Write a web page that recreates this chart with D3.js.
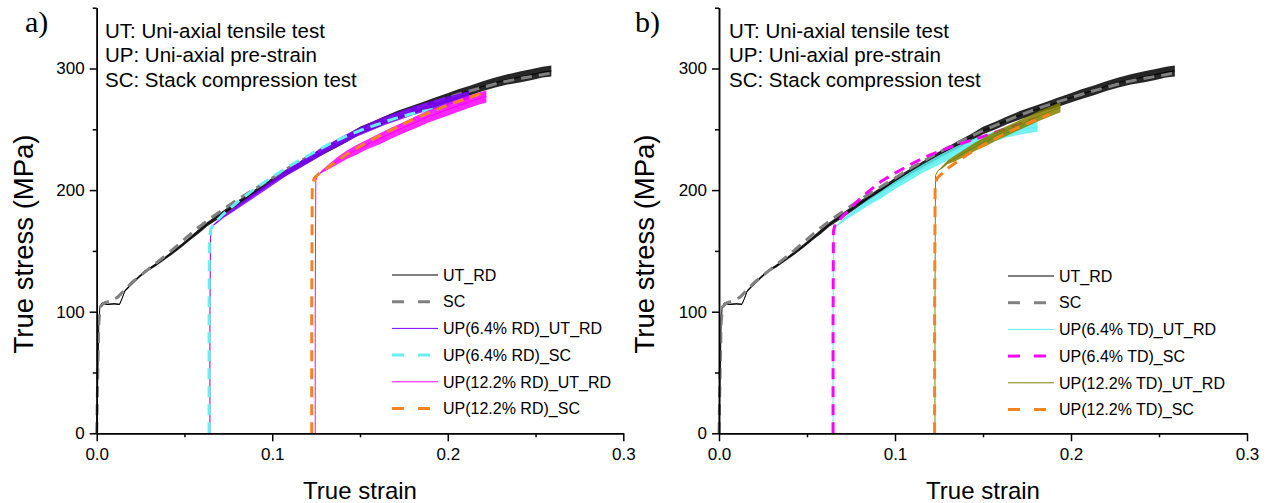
<!DOCTYPE html>
<html>
<head>
<meta charset="utf-8">
<script src="https://cdn.jsdelivr.net/npm/d3@7"></script>
<style>
  html, body { margin: 0; padding: 0; background: #fff; }
  svg { display: block; }
</style>
</head>
<body>
<svg id="chart" width="1270" height="503"></svg>
<script>
// ---------- axis setup ----------
const strainDomain = [0, 0.3];
const stressDomain = [0, 350];
const xMajorTicks = [0, 0.1, 0.2, 0.3];
const xMinorTicks = [0.05, 0.15, 0.25];
const yMajorTicks = [0, 100, 200, 300];
const yMinorTicks = [50, 150, 250, 350];

const notes = ["UT: Uni-axial tensile test", "UP: Uni-axial pre-strain", "SC: Stack compression test"];

// ---------- reference curves (shared by both panels) ----------
// UT_RD: uniaxial tensile test, rolling direction (serrated flow; spread = half-height of the serration band)
const utStrain = [0, 0.0006, 0.0012, 0.0018, 0.003, 0.006, 0.010, 0.013, 0.0145, 0.016, 0.020, 0.024, 0.028, 0.033, 0.038, 0.043, 0.048, 0.053, 0.058, 0.063, 0.068, 0.074, 0.080, 0.087, 0.094, 0.101, 0.108, 0.115, 0.122, 0.129, 0.136, 0.143, 0.150, 0.157, 0.164, 0.171, 0.178, 0.185, 0.192, 0.199, 0.206, 0.213, 0.220, 0.227, 0.234, 0.241, 0.248, 0.254, 0.259];
const utStress = [0, 45, 90, 104, 107, 106, 106.5, 106, 111, 117, 123, 128.5, 133.5, 138, 143, 148.5, 154, 160, 166, 172, 177, 183, 189, 195.5, 202, 208.5, 214.5, 220.5, 226.5, 232, 237.5, 243, 249, 253, 257.5, 261.5, 265, 268.5, 272, 275.5, 279, 282, 285.5, 288.5, 291, 293, 295, 297, 298];
const utSpread = [0, 0, 0, 0, 0.5, 0.5, 0.5, 0.5, 0.5, 0.8, 1, 1, 1, 1.2, 1.2, 1.5, 1.5, 1.5, 1.8, 1.8, 2, 2, 2, 2.2, 2.2, 2.5, 2.5, 2.5, 2.8, 2.8, 3, 3, 3, 3.2, 3.2, 3.5, 3.5, 3.5, 3.8, 3.8, 4, 4, 4, 4.2, 4.2, 4.5, 4.5, 4.5, 4.5];

// SC: stack compression test
const scStrain = [0, 0.0005, 0.0012, 0.002, 0.004, 0.008, 0.012, 0.016, 0.020, 0.026, 0.032, 0.040, 0.048, 0.056, 0.064, 0.072, 0.080, 0.090, 0.100, 0.110, 0.120, 0.130, 0.140, 0.150, 0.160, 0.170, 0.180, 0.190, 0.200, 0.210, 0.220, 0.230, 0.240, 0.250, 0.258];
const scStress = [0, 40, 90, 104, 107, 109, 112, 118, 124, 131, 138, 147, 157, 167, 176, 184, 192, 201, 210, 219, 227, 235, 242, 249, 255, 261, 266.5, 271.5, 276, 280.5, 284.5, 288.5, 291.5, 294, 296];

// ---------- panel a: pre-strain in RD ----------
const rd64UtStrain = [0.0645, 0.0645, 0.0648, 0.0655, 0.068, 0.072, 0.078, 0.085, 0.092, 0.100, 0.108, 0.116, 0.124, 0.132, 0.140, 0.148, 0.156, 0.164, 0.172, 0.180, 0.188, 0.196, 0.204, 0.212];
const rd64UtStress = [0, 90, 160, 170, 173, 178, 184, 191, 198, 206, 214, 221, 228, 235, 241, 247, 252, 257, 261, 265, 268.5, 272, 275, 278];
const rd64UtSpread = [0, 0, 0, 0, 0.8, 1.2, 1.5, 1.8, 2, 2.2, 2.5, 2.8, 3, 3, 3.2, 3.2, 3.5, 3.5, 3.5, 3.5, 3.5, 3.5, 3.5, 3.5];

const rd64ScStrain = [0.064, 0.064, 0.0642, 0.065, 0.067, 0.072, 0.080, 0.090, 0.100, 0.110, 0.120, 0.130, 0.140, 0.150, 0.160, 0.170, 0.180, 0.190, 0.200, 0.210, 0.217];
const rd64ScStress = [0, 90, 160, 168, 173, 180, 190, 201, 211, 220, 228, 236, 243, 249, 254, 259, 263, 266, 269, 271.5, 273];

const rd122UtStrain = [0.1245, 0.1245, 0.1248, 0.1258, 0.128, 0.132, 0.137, 0.1425, 0.148, 0.154, 0.161, 0.168, 0.175, 0.182, 0.189, 0.1995, 0.206, 0.212, 0.217, 0.222];
const rd122UtStress = [0, 100, 208, 212, 215, 219, 224, 229, 233, 237.5, 242, 247, 251.5, 256, 260.5, 266, 269.5, 272.5, 275, 277];
const rd122UtSpread = [0, 0, 0, 0, 1, 2, 3, 3.5, 4, 4, 4.5, 4.5, 4.5, 5, 5, 5, 5, 5, 5, 5];

const rd122ScStrain = [0.1225, 0.1225, 0.1228, 0.124, 0.127, 0.131, 0.136, 0.142, 0.150, 0.160, 0.170, 0.180, 0.190, 0.200, 0.210, 0.220];
const rd122ScStress = [0, 100, 204, 210, 214, 218, 223, 229, 236, 244, 251, 258, 264, 270, 275, 280];

// ---------- panel b: pre-strain in TD ----------
const td64UtStrain = [0.0648, 0.0648, 0.065, 0.066, 0.068, 0.072, 0.078, 0.085, 0.092, 0.100, 0.108, 0.116, 0.124, 0.132, 0.140, 0.148, 0.156, 0.164, 0.172, 0.181];
const td64UtStress = [0, 90, 163, 169, 172, 177, 183, 190, 196, 204, 211, 218, 224, 230, 235.5, 240, 244, 247.5, 250, 252];
const td64UtSpread = [0, 0, 0, 0, 1, 1.5, 2, 2.5, 3, 3, 3.5, 3.5, 4, 4, 4, 4, 4, 4, 4, 4];

const td64ScStrain = [0.0648, 0.0648, 0.065, 0.066, 0.068, 0.072, 0.078, 0.085, 0.092, 0.100, 0.110, 0.120, 0.130, 0.140, 0.150, 0.160, 0.170, 0.180];
const td64ScStress = [0, 90, 166, 172, 175, 181, 190, 199, 207, 214, 222, 229, 234.5, 239.5, 244, 249, 254, 259];

const td122UtStrain = [0.1227, 0.1227, 0.123, 0.1245, 0.127, 0.130, 0.134, 0.140, 0.146, 0.152, 0.158, 0.164, 0.170, 0.176, 0.182, 0.188, 0.194];
const td122UtStress = [0, 100, 212, 216, 219, 223, 226, 231, 236, 240.5, 245, 249, 253, 257, 261, 264.5, 268];
const td122UtSpread = [0, 0, 0, 0, 1, 1.5, 2.5, 3, 3.5, 4, 4, 4, 4, 4, 4, 4, 4];

const td122ScStrain = [0.1225, 0.1225, 0.1228, 0.124, 0.127, 0.131, 0.136, 0.142, 0.150, 0.158, 0.166, 0.174, 0.182, 0.188];
const td122ScStress = [0, 100, 204, 210, 214, 219, 224, 230, 237, 243, 249, 254, 259, 262.5];

// ---------- styles ----------
const FONT = "'Liberation Sans', Arial, Helvetica, sans-serif";
const SERIF = "'Liberation Serif', 'Times New Roman', serif";

const solid = (color) => ({ color, dashed: false, width: 1 });
const dashed = (color) => ({ color, dashed: true, width: 3 });

const utSeries = { name: "UT_RD", x: utStrain, y: utStress, spread: utSpread, ...solid("#000000") };
const scSeries = { name: "SC", x: scStrain, y: scStress, ...dashed("#808080") };

const panels = [
  {
    tag: "a)", left: 96.7, right: 623.3, tagX: 25, noteX: 105, titleX: 33,
    legendX: 392, legendY: 275,
    series: [
      utSeries,
      scSeries,
      { name: "UP(6.4% RD)_UT_RD", x: rd64UtStrain, y: rd64UtStress, spread: rd64UtSpread, ...solid("#8000ff") },
      { name: "UP(6.4% RD)_SC", x: rd64ScStrain, y: rd64ScStress, ...dashed("#66f0f0") },
      { name: "UP(12.2% RD)_UT_RD", x: rd122UtStrain, y: rd122UtStress, spread: rd122UtSpread, ...solid("#ff00ff") },
      { name: "UP(12.2% RD)_SC", x: rd122ScStrain, y: rd122ScStress, ...dashed("#f5841f") }
    ]
  },
  {
    tag: "b)", left: 719, right: 1247, tagX: 635, noteX: 729, titleX: 654,
    legendX: 1008, legendY: 276,
    series: [
      utSeries,
      scSeries,
      { name: "UP(6.4% TD)_UT_RD", x: td64UtStrain, y: td64UtStress, spread: td64UtSpread, ...solid("#5cf0f0") },
      { name: "UP(6.4% TD)_SC", x: td64ScStrain, y: td64ScStress, ...dashed("#ff00ff") },
      { name: "UP(12.2% TD)_UT_RD", x: td122UtStrain, y: td122UtStress, spread: td122UtSpread, ...solid("#808000") },
      { name: "UP(12.2% TD)_SC", x: td122ScStrain, y: td122ScStress, ...dashed("#f5841f") }
    ]
  }
];

const svg = d3.select("#chart");
const plotBottom = 433.3;
const plotTop = 7.7;
const legendStep = 26.7;

panels.forEach(p => {
  const x = d3.scaleLinear().domain(strainDomain).range([p.left, p.right]);
  const y = d3.scaleLinear().domain(stressDomain).range([plotBottom, plotTop]);
  const g = svg.append("g");

  // curves
  const curves = g.append("g");
  p.series.forEach(s => {
    const pts = s.x.map((v, i) => ({ e: v, s: s.y[i], d: s.spread ? s.spread[i] : 0 }));
    if (s.spread) {
      const band = d3.area()
        .x(d => x(d.e))
        .y0(d => y(d.s - d.d))
        .y1(d => y(d.s + d.d));
      curves.append("path")
        .attr("d", band(pts))
        .attr("fill", s.color)
        .attr("fill-opacity", 0.85);
    }
    const line = d3.line().x(d => x(d.e)).y(d => y(d.s));
    curves.append("path")
      .attr("d", line(pts))
      .attr("fill", "none")
      .attr("stroke", s.color)
      .attr("stroke-width", s.width)
      .attr("stroke-dasharray", s.dashed ? "11,7" : null)
      .attr("stroke-linejoin", "round");
  });

  // axes
  g.append("g").attr("transform", `translate(0,${plotBottom})`)
    .call(d3.axisBottom(x).tickValues(xMajorTicks).tickFormat(d3.format(".1f")).tickSize(8).tickPadding(7).tickSizeOuter(0));
  g.append("g").attr("transform", `translate(0,${plotBottom})`)
    .call(d3.axisBottom(x).tickValues(xMinorTicks).tickFormat("").tickSize(4).tickSizeOuter(0));
  g.append("g").attr("transform", `translate(${p.left},0)`)
    .call(d3.axisLeft(y).tickValues(yMajorTicks).tickSize(7).tickPadding(5).tickSizeOuter(0));
  g.append("g").attr("transform", `translate(${p.left},0)`)
    .call(d3.axisLeft(y).tickValues(yMinorTicks).tickFormat("").tickSize(4).tickSizeOuter(0));

  g.selectAll(".domain").attr("stroke", "#000").attr("stroke-width", 1.5);
  g.selectAll(".tick line").attr("stroke", "#000").attr("stroke-width", 1.5);
  g.selectAll(".tick text").attr("font-family", FONT).attr("font-size", 17).attr("fill", "#000");

  // axis titles
  g.append("text")
    .attr("x", (p.left + p.right) / 2).attr("y", 499)
    .attr("text-anchor", "middle")
    .attr("font-family", FONT).attr("font-size", 24)
    .text("True strain");
  g.append("text")
    .attr("transform", `translate(${p.titleX},244) rotate(-90)`)
    .attr("text-anchor", "middle")
    .attr("font-family", FONT).attr("font-size", 27.5)
    .text("True stress (MPa)");

  // panel tag
  g.append("text")
    .attr("x", p.tagX).attr("y", 32)
    .attr("font-family", SERIF).attr("font-size", 30)
    .text(p.tag);

  // abbreviations note
  g.append("g").selectAll("text").data(notes).join("text")
    .attr("x", p.noteX).attr("y", (d, i) => 37.5 + i * 24.5)
    .attr("font-family", FONT).attr("font-size", 20.5)
    .text(d => d);

  // legend
  const lg = g.append("g");
  p.series.forEach((s, i) => {
    const ly = p.legendY + i * legendStep;
    lg.append("line")
      .attr("x1", p.legendX).attr("x2", p.legendX + 46)
      .attr("y1", ly).attr("y2", ly)
      .attr("stroke", s.color)
      .attr("stroke-width", s.dashed ? 3 : 1)
      .attr("stroke-dasharray", s.dashed ? "12,14" : null);
    lg.append("text")
      .attr("x", p.legendX + 51).attr("y", ly).attr("dy", "0.36em")
      .attr("font-family", FONT).attr("font-size", 16)
      .text(s.name);
  });
});
</script>
</body>
</html>
